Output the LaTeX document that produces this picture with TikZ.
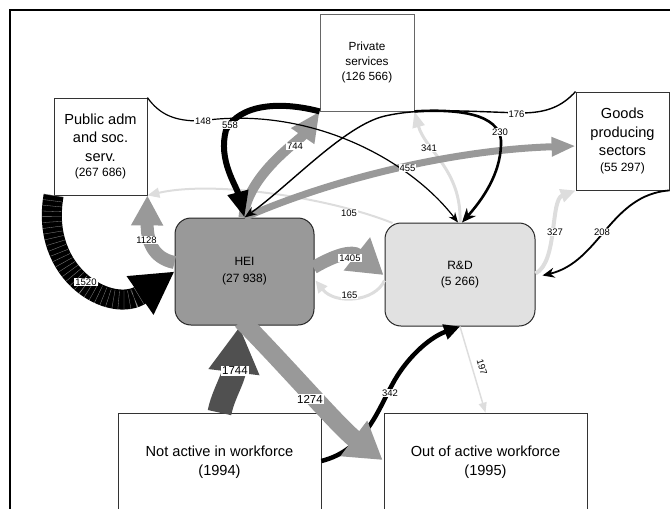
\documentclass[tikz,border=0pt]{standalone}
\usepackage{fontspec}
\setmainfont{Liberation Sans}
\usetikzlibrary{arrows.meta,calc}
\definecolor{midgray}{HTML}{999999}
\definecolor{lightg}{HTML}{DDDDDD}
\definecolor{rdfill}{HTML}{E1E1E1}
\definecolor{darkg}{HTML}{505050}
\definecolor{boxline}{HTML}{333333}
\begin{document}
\begin{tikzpicture}[x=1pt,y=-1pt,
  box/.style={draw=boxline, line width=0.8pt, fill=white, align=center, inner sep=0pt},
  rbox/.style={draw=black!85, line width=1pt, rounded corners=16pt, align=center, inner sep=0pt},
  bigtext/.style={font=\fontsize{14.6}{18.5}\selectfont},
  lab/.style={fill=white, inner sep=1pt, font=\fontsize{9.5}{10}\selectfont},
  blab/.style={fill=white, inner sep=1pt, font=\fontsize{11.5}{12}\selectfont},
  lightarrow/.style={draw=lightg, line width=#1},
  grayband/.style={draw=midgray, line width=#1},
  blackline/.style={draw=black, line width=#1}
]
\useasboundingbox (0,0) rectangle (670,509);
\draw[line width=2.2pt] (10,530) -- (10,10) -- (690,10);

% boxes
\node[box, draw=black!60, minimum width=94pt, minimum height=97pt, font=\fontsize{11.8}{15}\selectfont] (priv) at (367,62.5) {Private\\services\\(126 566)};
\node[box, minimum width=93pt, minimum height=97pt, bigtext] (pub) at (100.5,146.5) {Public adm\\and soc.\\serv.\\[-3pt]{\fontsize{12}{14}\selectfont (267 686)}};
\node[box, minimum width=93pt, minimum height=98pt, bigtext] (goods) at (622.5,141) {Goods\\producing\\sectors\\[-3pt]{\fontsize{12}{14}\selectfont (55 297)}};
\node[rbox, fill=midgray, minimum width=139pt, minimum height=107pt, font=\fontsize{12}{17}\selectfont] (hei) at (244.5,271.5) {HEI\\(27 938)};
\node[rbox, fill=rdfill, minimum width=150pt, minimum height=103pt, font=\fontsize{12}{16}\selectfont] (rd) at (460,274.5) {R\&D\\(5 266)};
\node[box, minimum width=203pt, minimum height=98pt, bigtext] (notact) at (219.5,462) {Not active in workforce\\(1994)};
\node[box, minimum width=203pt, minimum height=98pt, bigtext] (outact) at (485.5,462) {Out of active workforce\\(1995)};

% light arrows
\draw[lightarrow=2pt, -{Triangle[length=12pt,width=10pt]}] ($(rd.north west)+(8,0.5)$) .. controls (330,198) and (215,180) .. (pub.south east);
\draw[lightarrow=3pt, -{Triangle[length=12pt,width=11pt]}] ($(rd.west)+(0,6)$) .. controls (375,302) and (335,305) .. ($(hei.east)+(1,9)$);
\draw[lightarrow=3pt, -{Triangle[length=16pt,width=12pt]}] (rd.north) .. controls (462,170) and (425,150) .. (priv.south east);
\draw[lightarrow=4pt, -{Triangle[length=15pt,width=13pt]}] ($(rd.east)+(0,-1)$) .. controls (558,262) and (550,200) .. (goods.south west);
\draw[lightarrow=1.5pt, -{Triangle[length=10pt,width=8pt]}] (rd.south) -- (outact.north);

% dark band 1744
\draw[draw=darkg, line width=24pt, -{Triangle[length=46pt,width=48pt]}] (notact.north) .. controls (223,395) and (233,380) .. ($(hei.south)+(-5,1)$);
% 342
\draw[blackline=4.5pt, -{Triangle[length=16pt,width=15pt]}] ($(notact.east)+(0,-1)$) .. controls (365,450) and (378,410) .. (392,385) .. controls (405,360) and (428,338) .. (rd.south);
% 1274
\draw[grayband=18pt, -{Triangle[length=36pt,width=42pt]}] ($(hei.south)+(-3,-5)$) .. controls (290,370) and (340,428) .. ($(outact.west)+(-1,-2)$);

% gray bands
\draw[grayband=13pt, -{Triangle[length=30pt,width=30pt]}] ($(hei.west)+(0,-9)$) .. controls (152,258) and (147,240) .. (pub.south east);
\draw[grayband=10pt, -{Triangle[length=30pt,width=26pt]}] ($(hei.north)+(-1,0)$) .. controls (247,175) and (300,140) .. (priv.south west);
\draw[grayband=7pt, -{Triangle[length=24pt,width=18pt]}] (hei.north) .. controls (330,180) and (450,150) .. ($(goods.west)+(0,5)$);
\draw[grayband=13pt, -{Triangle[length=34pt,width=40pt]}] ($(hei.east)+(-1,-4)$) .. controls (335,255) and (352,250) .. ($(rd.west)+(-1,0.5)$);

% 1520 black band with faint hatching
\draw[blackline=20pt, -{Triangle[length=42pt,width=44pt]}] (pub.south west) .. controls ($(pub.south west)+(-14,80)$) and (112,315) .. (hei.west);
\draw[white, opacity=0.55, line width=19pt, dash pattern=on 0.3pt off 5pt, shorten >=42pt] (pub.south west) .. controls ($(pub.south west)+(-14,80)$) and (112,315) .. (hei.west);

% 558
\draw[blackline=6pt, -{Triangle[length=26pt,width=20pt]}] (priv.south west) .. controls (280,101) and (240,104) .. (226,130) .. controls (218,160) and (236,185) .. (hei.north);
% 148
\draw[blackline=1.2pt, -{Stealth[length=10pt,width=8pt]}] (pub.north east) .. controls (160,115) and (175,121) .. (200,121) .. controls (310,105) and (410,160) .. ($(rd.north)+(-2,0)$);
% 176
\draw[blackline=1.4pt, -{Stealth[length=12pt,width=9pt]}] (goods.north west) .. controls (562,106) and (548,113) .. (520,113) .. controls (460,111) and (420,108) .. (385,116) .. controls (345,125) and (290,185) .. (hei.north);
% 230
\draw[blackline=2.6pt, -{Stealth[length=14pt,width=12pt]}] (priv.south east) .. controls (470,108) and (503,118) .. (501,145) .. controls (500,175) and (482,200) .. ($(rd.north)+(2,0)$);
% 208
\draw[blackline=1.8pt, -{Stealth[length=12pt,width=10pt]}] (goods.south east) .. controls (610,195) and (600,262) .. ($(rd.east)+(7,1)$);

% labels
\node[lab] (l148) at (203,121) {148};
\node[lab] (l558) at (230,125) {558};
\node[lab] (l744) at (295,146) {744};
\node[lab] (l176) at (516.5,114) {176};
\node[lab] (l230) at (500,132) {230};
\node[lab] (l341) at (429,148) {341};
\node[lab] (l455) at (407.5,168) {455};
\node[lab] (l105) at (349,213) {105};
\node[lab] (l1128) at (146.5,240) {1128};
\node[lab] (l1520) at (86,282) {1520};
\node[lab] (l1405) at (350,258) {1405};
\node[lab] (l165) at (349.5,295) {165};
\node[lab] (l327) at (555,232) {327};
\node[lab] (l208) at (602,232) {208};
\node[blab] (l1744) at (235,371) {1744};
\node[blab] (l1274) at (310,399) {1274};
\node[lab] (l342) at (390,393) {342};
\node[font=\fontsize{9.5}{10}\selectfont, inner sep=1pt, rotate=-74] (l197) at (482,367) {197};
\end{tikzpicture}
\end{document}
